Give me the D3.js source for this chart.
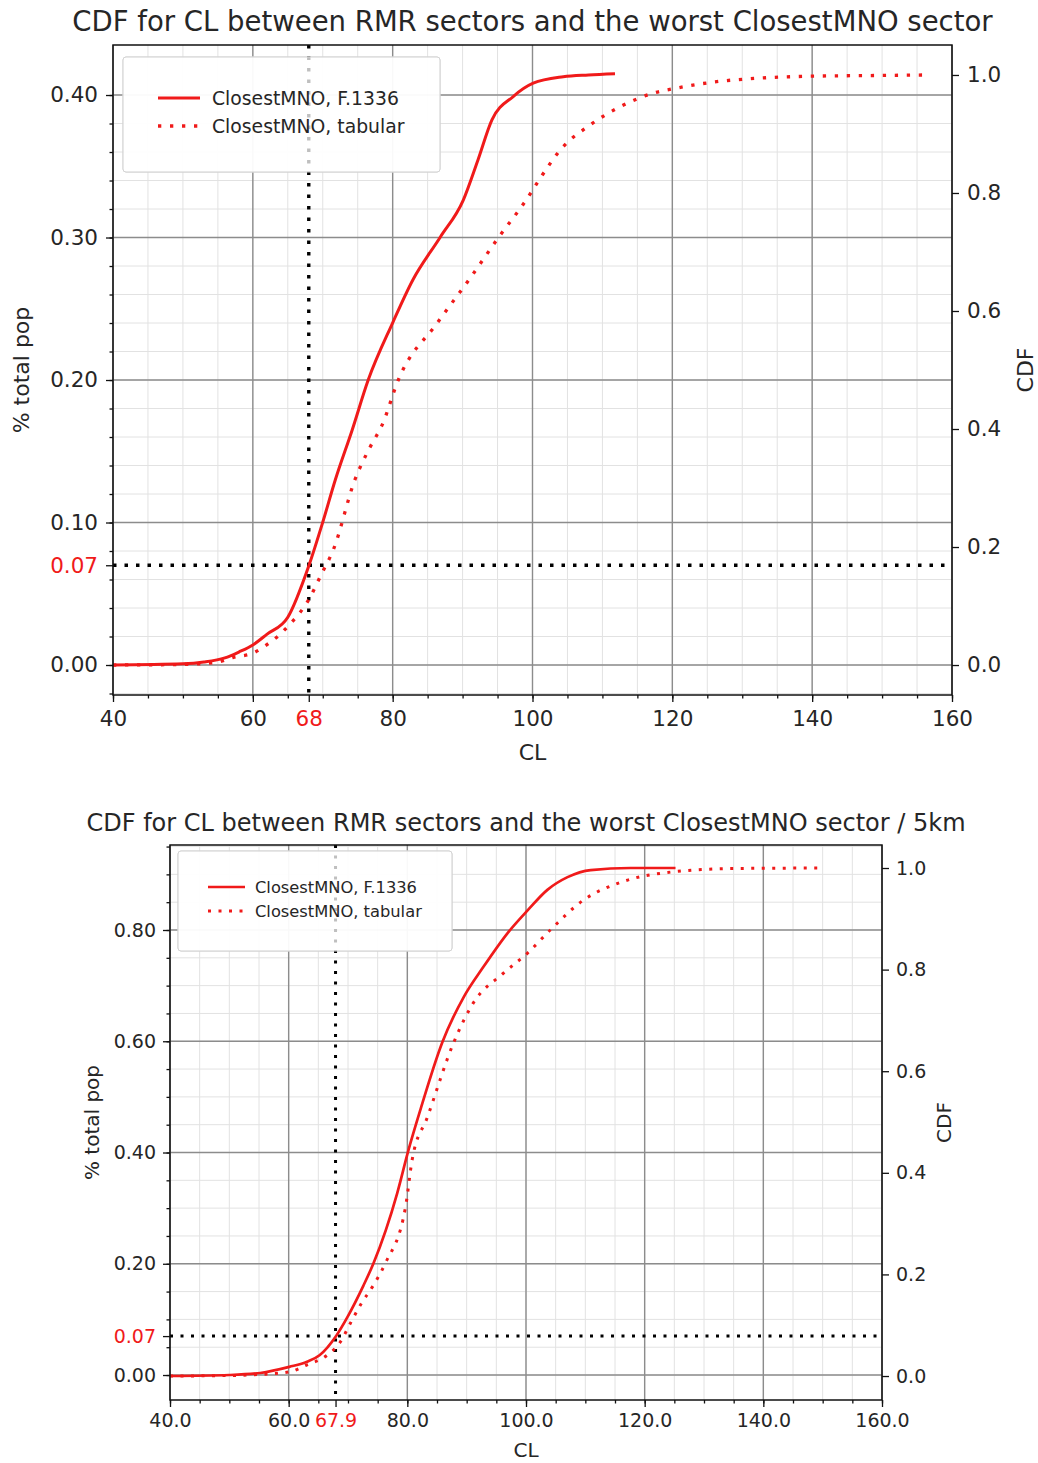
<!DOCTYPE html>
<html>
<head>
<meta charset="utf-8">
<script src="https://cdn.jsdelivr.net/npm/d3@7"></script>
<style>
  body { margin: 0; background: #fff; }
  svg { display: block; font-family: "DejaVu Sans", sans-serif; }
</style>
</head>
<body>
<div id="chart"></div>
<script>
// ---- data ----
const seriesNames = ['ClosestMNO, F.1336', 'ClosestMNO, tabular'];

// top panel: all RMR sectors
const clTopF1336  = [40, 50, 53, 56, 58, 60, 62, 65, 68, 70, 71.8, 74.2, 76.5, 80, 82.9, 86.8, 90.1, 92.2, 94.2, 97.2, 100.1, 104.4, 108, 111.8];
const cdfTopF1336 = [0, 0.002, 0.005, 0.012, 0.022, 0.034, 0.052, 0.081, 0.168, 0.242, 0.314, 0.398, 0.483, 0.58, 0.653, 0.725, 0.788, 0.856, 0.924, 0.963, 0.986, 0.997, 1.0, 1.002];
const clTopTab    = [40, 50, 55, 57.2, 60, 62.3, 63.8, 65.2, 66.2, 67.7, 69.9, 71.5, 74.6, 76.8, 78.5, 80.8, 86.4, 91.1, 95.1, 99.2, 101.1, 104.2, 108.2, 112.5, 117.2, 120.7, 125.9, 133, 140.1, 148, 156.2];
const cdfTopTab   = [0, 0.001, 0.005, 0.013, 0.02, 0.037, 0.051, 0.068, 0.081, 0.105, 0.156, 0.195, 0.314, 0.37, 0.407, 0.483, 0.58, 0.656, 0.724, 0.79, 0.825, 0.876, 0.915, 0.946, 0.969, 0.978, 0.988, 0.995, 0.998, 0.999, 1.0];

// bottom panel: sectors within 5 km
const clBotF1336  = [40, 50, 55.2, 60.1, 63.1, 65.2, 68, 69.9, 72.6, 74.3, 78.3, 80.2, 82.2, 85.9, 89.5, 92.8, 96.9, 100.3, 103.6, 107, 110.9, 117.6, 125.2];
const cdfBotF1336 = [0, 0.002, 0.006, 0.018, 0.028, 0.041, 0.079, 0.116, 0.178, 0.222, 0.36, 0.445, 0.524, 0.657, 0.746, 0.805, 0.872, 0.917, 0.957, 0.982, 0.996, 1.0, 1.0];
const clBotTab    = [40, 50, 55, 60.1, 63.1, 66.5, 68.7, 70.4, 72.1, 74.3, 76.3, 79.7, 80.8, 83.4, 87.8, 91.1, 96.2, 100.3, 104.1, 109.7, 116, 124.4, 135, 149.7];
const cdfBotTab   = [0, 0.001, 0.003, 0.008, 0.022, 0.041, 0.067, 0.104, 0.14, 0.179, 0.222, 0.333, 0.425, 0.51, 0.656, 0.734, 0.793, 0.833, 0.878, 0.937, 0.972, 0.992, 0.999, 1.0];

// tick labels / marks
const xTicks = [40, 60, 80, 100, 120, 140, 160];
const topLeftTicks = [0, 0.1, 0.2, 0.3, 0.4];
const botLeftTicks = [0, 0.2, 0.4, 0.6, 0.8];
const rightTicks = [0, 0.2, 0.4, 0.6, 0.8, 1.0];
const topMark = { cl: 68, label: '68', pop: 0.07 };
const botMark = { cl: 67.9, label: '67.9', pop: 0.07 };

// ---- layout ----
const W = 1038, H = 1463;
const INK = '#262626', RED = '#f01a1a';

const svg = d3.select('#chart').append('svg')
    .attr('width', W)
    .attr('height', H);

const panels = [
    {
        title: 'CDF for CL between RMR sectors and the worst ClosestMNO sector',
        box: { x0: 113, x1: 952, y0: 45, y1: 695 },
        leftDomain: [-0.02105, 0.4351], rightDomain: [-0.0508, 1.0508],
        leftTicks: topLeftTicks, leftMinor: 0.02, leftFmt: d3.format('.2f'), xFmt: d3.format('d'),
        mark: topMark,
        series: [[clTopF1336, cdfTopF1336], [clTopTab, cdfTopTab]],
        font: 21.5, xPad: 9, yPad: 8, titleFont: 27.5, titleY: 31, labelFont: 22,
        lw: 3, dotW: 3.3, dot: '3.3,8.7', refDash: '3.5,8', refW: 3.4,
        legend: { x: 123, y: 57, w: 317, h: 115, font: 18.8, row0: 98, gap: 28, sx: 158, sw: 42, tx: 212 },
        yLabelX: 29, yRLabelX: 1033, xLabelY: 760
    },
    {
        title: 'CDF for CL between RMR sectors and the worst ClosestMNO sector / 5km',
        box: { x0: 170, x1: 882, y0: 845, y1: 1400 },
        leftDomain: [-0.0449, 0.9528], rightDomain: [-0.0472, 1.0453],
        leftTicks: botLeftTicks, leftMinor: 0.05, leftFmt: d3.format('.2f'), xFmt: d3.format('.1f'),
        mark: botMark,
        series: [[clBotF1336, cdfBotF1336], [clBotTab, cdfBotTab]],
        font: 19, xPad: 7, yPad: 7, titleFont: 24, titleY: 831, labelFont: 20,
        lw: 2.7, dotW: 3, dot: '3,7.5', refDash: '3,7.5', refW: 3,
        legend: { x: 178, y: 851, w: 274, h: 100, font: 16.3, row0: 887, gap: 24, sx: 208, sw: 37, tx: 255 },
        yLabelX: 99, yRLabelX: 951, xLabelY: 1457
    }
];

panels.forEach(drawPanel);

function drawPanel(p) {
    const b = p.box;
    const g = svg.append('g');
    const x = d3.scaleLinear().domain([40, 160]).range([b.x0, b.x1]);
    const yL = d3.scaleLinear().domain(p.leftDomain).range([b.y1, b.y0]);
    const yR = d3.scaleLinear().domain(p.rightDomain).range([b.y1, b.y0]);

    const xMinor = d3.range(40, 160.01, 5);
    const yMinor = d3.range(-20, 21).map(i => +(i * p.leftMinor).toFixed(3))
        .filter(v => v >= p.leftDomain[0] && v <= p.leftDomain[1]);

    // minor grid
    g.append('g').selectAll('line').data(xMinor).join('line')
        .attr('x1', d => x(d)).attr('x2', d => x(d))
        .attr('y1', b.y0).attr('y2', b.y1)
        .attr('stroke', '#e2e2e2').attr('stroke-width', 1);
    g.append('g').selectAll('line').data(yMinor).join('line')
        .attr('x1', b.x0).attr('x2', b.x1)
        .attr('y1', d => yL(d)).attr('y2', d => yL(d))
        .attr('stroke', '#e2e2e2').attr('stroke-width', 1);

    // major grid
    g.append('g').selectAll('line').data(xTicks).join('line')
        .attr('x1', d => x(d)).attr('x2', d => x(d))
        .attr('y1', b.y0).attr('y2', b.y1)
        .attr('stroke', '#8c8c8c').attr('stroke-width', 1.4);
    g.append('g').selectAll('line').data(p.leftTicks).join('line')
        .attr('x1', b.x0).attr('x2', b.x1)
        .attr('y1', d => yL(d)).attr('y2', d => yL(d))
        .attr('stroke', '#8c8c8c').attr('stroke-width', 1.4);

    // legend box (sits under the right-axis curves, like the twin axes)
    const L = p.legend;
    g.append('rect')
        .attr('x', L.x).attr('y', L.y).attr('width', L.w).attr('height', L.h)
        .attr('rx', 3)
        .attr('fill', '#fff').attr('fill-opacity', 0.8)
        .attr('stroke', '#d4d4d4').attr('stroke-width', 1);

    // reference lines
    g.append('line')
        .attr('x1', x(p.mark.cl)).attr('x2', x(p.mark.cl))
        .attr('y1', b.y0).attr('y2', b.y1)
        .attr('stroke', '#000').attr('stroke-width', p.refW)
        .attr('stroke-dasharray', p.refDash);
    g.append('line')
        .attr('x1', b.x0).attr('x2', b.x1)
        .attr('y1', yL(p.mark.pop)).attr('y2', yL(p.mark.pop))
        .attr('stroke', '#000').attr('stroke-width', p.refW)
        .attr('stroke-dasharray', p.refDash);

    // legend again on top of the reference lines, faded
    g.append('rect')
        .attr('x', L.x).attr('y', L.y).attr('width', L.w).attr('height', L.h)
        .attr('rx', 3)
        .attr('fill', '#fff').attr('fill-opacity', 0.75)
        .attr('stroke', '#d4d4d4').attr('stroke-width', 1);

    // curves
    const line = d3.line().x(d => x(d[0])).y(d => yR(d[1])).curve(d3.curveMonotoneX);
    p.series.forEach(([cl, cdf], i) => {
        g.append('path')
            .datum(d3.zip(cl, cdf))
            .attr('d', line)
            .attr('fill', 'none')
            .attr('stroke', RED)
            .attr('stroke-width', i === 1 ? p.dotW : p.lw)
            .attr('stroke-linejoin', 'round')
            .attr('stroke-dasharray', i === 1 ? p.dot : null);
    });

    // legend entries
    seriesNames.forEach((name, i) => {
        const yy = L.row0 + i * L.gap;
        g.append('line')
            .attr('x1', L.sx).attr('x2', L.sx + L.sw)
            .attr('y1', yy).attr('y2', yy)
            .attr('stroke', RED).attr('stroke-width', i === 1 ? p.dotW : p.lw)
            .attr('stroke-dasharray', i === 1 ? p.dot : null);
        g.append('text')
            .attr('x', L.tx).attr('y', yy)
            .attr('dy', '0.36em')
            .attr('font-size', L.font)
            .attr('fill', INK)
            .text(name);
    });

    // frame
    g.append('rect')
        .attr('x', b.x0).attr('y', b.y0)
        .attr('width', b.x1 - b.x0).attr('height', b.y1 - b.y0)
        .attr('fill', 'none').attr('stroke', '#111').attr('stroke-width', 1.5);

    // axes
    const styleAxis = (sel, col) => {
        sel.select('.domain').remove();
        sel.selectAll('line').attr('stroke', '#111').attr('stroke-width', 1.3);
        sel.selectAll('text').attr('font-size', p.font).attr('fill', col || INK)
            .attr('font-family', '"DejaVu Sans", sans-serif');
    };
    const bottomY = b.y1;
    g.append('g').attr('transform', `translate(0,${bottomY})`)
        .call(d3.axisBottom(x).tickValues(xMinor).tickSize(3.5).tickFormat(''))
        .call(styleAxis);
    g.append('g').attr('transform', `translate(0,${bottomY})`)
        .call(d3.axisBottom(x).tickValues(xTicks).tickSize(7).tickPadding(p.xPad).tickFormat(p.xFmt))
        .call(styleAxis);
    g.append('g').attr('transform', `translate(0,${bottomY})`)
        .call(d3.axisBottom(x).tickValues([p.mark.cl]).tickSize(7).tickPadding(p.xPad).tickFormat(() => p.mark.label))
        .call(s => styleAxis(s, RED));

    g.append('g').attr('transform', `translate(${b.x0},0)`)
        .call(d3.axisLeft(yL).tickValues(yMinor).tickSize(3.5).tickFormat(''))
        .call(styleAxis);
    g.append('g').attr('transform', `translate(${b.x0},0)`)
        .call(d3.axisLeft(yL).tickValues(p.leftTicks).tickSize(7).tickPadding(p.yPad).tickFormat(p.leftFmt))
        .call(styleAxis);
    g.append('g').attr('transform', `translate(${b.x0},0)`)
        .call(d3.axisLeft(yL).tickValues([p.mark.pop]).tickSize(7).tickPadding(p.yPad).tickFormat(p.leftFmt))
        .call(s => styleAxis(s, RED));

    g.append('g').attr('transform', `translate(${b.x1},0)`)
        .call(d3.axisRight(yR).tickValues(rightTicks).tickSize(7).tickPadding(p.yPad).tickFormat(d3.format('.1f')))
        .call(styleAxis);

    // titles and axis labels
    g.append('text')
        .attr('x', (b.x0 + b.x1) / 2).attr('y', p.titleY)
        .attr('text-anchor', 'middle')
        .attr('font-size', p.titleFont).attr('fill', INK)
        .text(p.title);
    g.append('text')
        .attr('x', (b.x0 + b.x1) / 2).attr('y', p.xLabelY)
        .attr('text-anchor', 'middle')
        .attr('font-size', p.labelFont).attr('fill', INK)
        .text('CL');
    g.append('text')
        .attr('transform', `translate(${p.yLabelX},${(b.y0 + b.y1) / 2}) rotate(-90)`)
        .attr('text-anchor', 'middle')
        .attr('font-size', p.labelFont).attr('fill', INK)
        .text('% total pop');
    g.append('text')
        .attr('transform', `translate(${p.yRLabelX},${(b.y0 + b.y1) / 2}) rotate(-90)`)
        .attr('text-anchor', 'middle')
        .attr('font-size', p.labelFont).attr('fill', INK)
        .text('CDF');
}
</script>
</body>
</html>
